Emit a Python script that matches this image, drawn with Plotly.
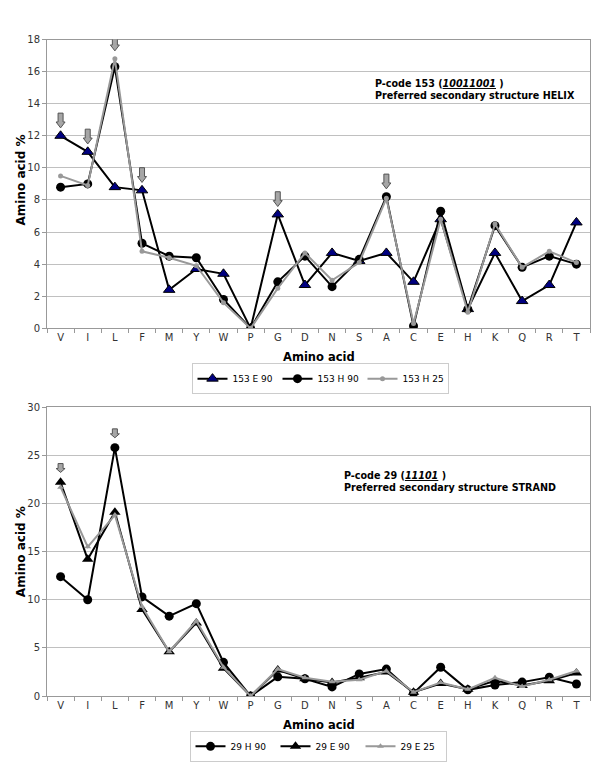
import plotly.graph_objects as go

# amino acids on the x axis
amino = ['V', 'I', 'L', 'F', 'M', 'Y', 'W', 'P', 'G', 'D',
         'N', 'S', 'A', 'C', 'E', 'H', 'K', 'Q', 'R', 'T']

# P-code 153 (helix)
e90_153 = [12.0, 11.0, 8.8, 8.6, 2.4, 3.7, 3.4, 0.0, 7.1, 2.7,
           4.7, 4.2, 4.7, 2.9, 6.8, 1.2, 4.7, 1.7, 2.7, 6.6]
h90_153 = [8.8, 9.0, 16.3, 5.3, 4.5, 4.4, 1.8, 0.0, 2.9, 4.5,
           2.6, 4.3, 8.2, 0.15, 7.3, 1.2, 6.4, 3.8, 4.5, 4.0]
h25_153 = [9.5, 8.9, 16.8, 4.8, 4.4, 3.9, 1.6, 0.0, 2.5, 4.7,
           3.0, 4.1, 8.1, 0.3, 6.8, 1.0, 6.5, 3.8, 4.8, 4.1]

# P-code 29 (strand)
h90_29 = [12.4, 10.0, 25.8, 10.3, 8.3, 9.6, 3.5, 0.0, 2.0, 1.8,
          0.95, 2.3, 2.8, 0.3, 3.0, 0.65, 1.15, 1.45, 1.95, 1.25]
e90_29 = [22.2, 14.2, 19.1, 9.0, 4.6, 7.6, 2.9, 0.0, 2.7, 1.8,
          1.4, 1.9, 2.5, 0.4, 1.3, 0.7, 1.6, 1.1, 1.6, 2.4]
e25_29 = [21.7, 15.5, 18.8, 9.3, 4.6, 7.8, 3.0, 0.0, 2.8, 1.9,
          1.5, 1.7, 2.6, 0.4, 1.4, 0.7, 1.9, 1.0, 1.7, 2.6]

# categories marked with arrows
arrows_153 = ['V', 'I', 'L', 'F', 'G', 'A']
arrows_29 = ['V', 'L']

xs = list(range(len(amino)))
FONT = 'DejaVu Sans'
GRAY = '#999999'

W, H = 600, 777


def px_x(p):
    return p / W


def px_y(p):
    return 1 - p / H


fig = go.Figure()

# --- top chart ---
fig.add_trace(go.Scatter(x=xs, y=e90_153, name='153 E 90', mode='lines+markers',
                         line=dict(color='black', width=2),
                         marker=dict(symbol='triangle-up', size=10, color='#000080',
                                     line=dict(color='black', width=1)),
                         xaxis='x', yaxis='y', legend='legend'))
fig.add_trace(go.Scatter(x=xs, y=h90_153, name='153 H 90', mode='lines+markers',
                         line=dict(color='black', width=2),
                         marker=dict(symbol='circle', size=9, color='black'),
                         xaxis='x', yaxis='y', legend='legend'))
fig.add_trace(go.Scatter(x=xs, y=h25_153, name='153 H 25', mode='lines+markers',
                         line=dict(color=GRAY, width=2),
                         marker=dict(symbol='circle', size=5, color=GRAY),
                         xaxis='x', yaxis='y', legend='legend'))

# --- bottom chart ---
fig.add_trace(go.Scatter(x=xs, y=h90_29, name='29 H 90', mode='lines+markers',
                         line=dict(color='black', width=2),
                         marker=dict(symbol='circle', size=9, color='black'),
                         xaxis='x2', yaxis='y2', legend='legend2'))
fig.add_trace(go.Scatter(x=xs, y=e90_29, name='29 E 90', mode='lines+markers',
                         line=dict(color='black', width=2),
                         marker=dict(symbol='triangle-up', size=10, color='black'),
                         xaxis='x2', yaxis='y2', legend='legend2'))
fig.add_trace(go.Scatter(x=xs, y=e25_29, name='29 E 25', mode='lines+markers',
                         line=dict(color=GRAY, width=2),
                         marker=dict(symbol='triangle-up', size=6, color=GRAY),
                         xaxis='x2', yaxis='y2', legend='legend2'))


def block_arrow(xref, yref, xc, tip, upx, upy, half_head, half_shaft, head_h, total_h):
    # downward block arrow; sizes given in pixels, converted to data units
    hh = half_head * upx
    hs = half_shaft * upx
    y_head = tip + head_h * upy
    y_top = tip + total_h * upy
    path = (f'M {xc - hs},{y_top} L {xc + hs},{y_top} L {xc + hs},{y_head} '
            f'L {xc + hh},{y_head} L {xc},{tip} L {xc - hh},{y_head} '
            f'L {xc - hs},{y_head} Z')
    fig.add_shape(type='path', path=path, xref=xref, yref=yref,
                  fillcolor='#a6a6a6', line=dict(color='#555555', width=1))


upx = 1 / 27.14  # category units per pixel
upy_top = 18 / 293
upy_bot = 30 / 292

for a in arrows_153:
    i = amino.index(a)
    top = max(e90_153[i], h90_153[i], h25_153[i])
    block_arrow('x', 'y', i, top + 8 * upy_top, upx, upy_top, 4.5, 2.5, 6, 15)

for a in arrows_29:
    i = amino.index(a)
    top = max(h90_29[i], e90_29[i], e25_29[i])
    block_arrow('x2', 'y2', i, top + 10 * upy_bot, upx, upy_bot, 4.5, 2.5, 4, 9)

xaxis_common = dict(
    range=[-0.5, len(amino) - 0.5], tickmode='array', tickvals=xs, ticktext=amino,
    ticks='', showgrid=False, zeroline=False, showline=True, linecolor=GRAY,
    mirror=True, tickfont=dict(family=FONT, size=10, color='#333333'),
    minor=dict(tickvals=[i - 0.5 for i in range(len(amino) + 1)], ticks='outside',
               ticklen=4, tickcolor=GRAY, showgrid=False),
    domain=[px_x(47), px_x(590)], fixedrange=True,
)
yaxis_common = dict(
    showgrid=True, gridcolor='#c0c0c0', zeroline=False, showline=True,
    linecolor=GRAY, mirror=True, ticks='outside', ticklen=4, tickcolor=GRAY,
    tickfont=dict(family=FONT, size=10, color='#333333'), fixedrange=True,
)

legend_common = dict(orientation='h', xanchor='center', yanchor='middle',
                     bordercolor='#cccccc', borderwidth=1,
                     font=dict(family=FONT, size=9), itemwidth=30,
                     entrywidth=40, tracegroupgap=0)

fig.update_layout(
    width=W, height=H,
    margin=dict(l=0, r=0, t=0, b=0),
    paper_bgcolor='white', plot_bgcolor='white',
    font=dict(family=FONT, color='black'),
    xaxis=dict(xaxis_common, anchor='y'),
    yaxis=dict(yaxis_common, range=[0, 18], dtick=2, anchor='x',
               domain=[px_y(328), px_y(35)]),
    xaxis2=dict(xaxis_common, anchor='y2'),
    yaxis2=dict(yaxis_common, range=[0, 30], dtick=5, anchor='x2',
                domain=[px_y(701), px_y(408)]),
    legend=dict(legend_common, x=px_x(320), y=px_y(379)),
    legend2=dict(legend_common, x=px_x(318), y=px_y(752)),
    showlegend=True,
)

title_font = dict(family=FONT, size=11.5, color='black')
note_font = dict(family=FONT, size=9.6, color='black')

# axis titles
for ytitle_y, xtitle_y in [(178, 357), (555, 730)]:
    fig.add_annotation(text='<b>Amino acid %</b>', x=px_x(21), y=px_y(ytitle_y),
                       xref='paper', yref='paper', textangle=-90, showarrow=False,
                       xanchor='center', yanchor='middle',
                       font=dict(title_font, size=12))
    fig.add_annotation(text='<b>Amino acid</b>', x=px_x(318.5), y=px_y(xtitle_y),
                       xref='paper', yref='paper', showarrow=False,
                       xanchor='center', yanchor='middle', font=title_font)

fig.add_annotation(
    text='<b>P-code 153 (<i><u>10011001</u></i> )<br>Preferred secondary structure HELIX</b>',
    x=px_x(373), y=px_y(86), xref='paper', yref='paper', xanchor='left',
    yanchor='middle', align='left', showarrow=False, font=note_font)
fig.add_annotation(
    text='<b>P-code 29 (<i><u>11101</u></i> )<br>Preferred secondary structure STRAND</b>',
    x=px_x(342), y=px_y(483), xref='paper', yref='paper', xanchor='left',
    yanchor='middle', align='left', showarrow=False, font=note_font)

# pin the figure to the window corner: no page margin, no scrolling
pin = ("document.body.style.margin='0';"
       "document.documentElement.style.overflow='hidden';"
       "var d=document.getElementsByClassName('plotly-graph-div')[0];"
       "d.style.position='fixed';d.style.top='0px';d.style.left='0px';")
fig.write_html('out.html', config={'displayModeBar': False}, post_script=pin)
